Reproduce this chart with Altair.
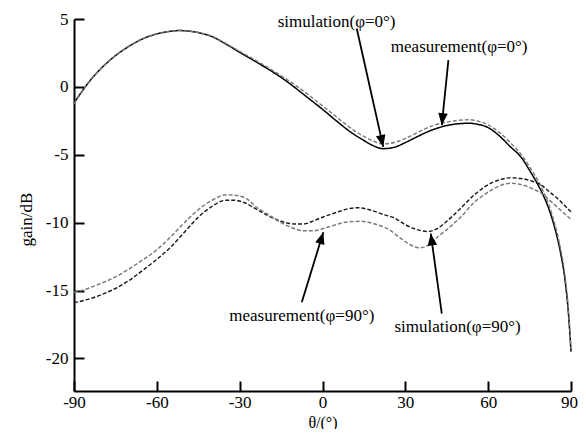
import math
import altair as alt
import pandas as pd

W, H = 497, 372
XMIN, XMAX = -90, 90
YMIN, YMAX = -22.4, 5
FONT = "Liberation Serif"

# simulation phi=0 (solid)
sim0_x = [-90, -85, -80, -75, -70, -65, -60, -55, -52, -48, -45, -40, -35, -30, -25, -20, -15, -10, -5, 0, 5, 10, 15, 18, 22, 26, 30, 35, 40, 45, 50, 53, 56, 60, 64, 68, 72, 75, 78, 80, 82, 84, 86, 88, 89, 90]
sim0_y = [-1.2, 0.25, 1.4, 2.3, 3.0, 3.55, 3.9, 4.1, 4.15, 4.1, 4.0, 3.7, 3.15, 2.55, 1.95, 1.35, 0.7, -0.05, -0.85, -1.65, -2.5, -3.3, -3.95, -4.3, -4.55, -4.45, -4.1, -3.6, -3.15, -2.85, -2.7, -2.68, -2.75, -3.0, -3.6, -4.4, -5.2, -6.15, -7.2, -8.0, -9.0, -10.3, -12.0, -14.5, -16.5, -19.5]
# measurement phi=0 (grey dashed)
mea0_x = sim0_x
mea0_y = [-1.25, 0.25, 1.4, 2.3, 3.0, 3.55, 3.9, 4.1, 4.15, 4.1, 4.0, 3.72, 3.2, 2.62, 2.05, 1.45, 0.82, 0.15, -0.6, -1.4, -2.2, -3.0, -3.65, -3.95, -4.2, -4.1, -3.8, -3.3, -2.85, -2.6, -2.45, -2.42, -2.5, -2.8, -3.35, -4.1, -5.0, -5.9, -6.9, -7.7, -8.7, -10.0, -11.7, -14.2, -16.2, -19.3]
# simulation phi=90 (dark dashed)
sim90_x = [-90, -85, -80, -75, -70, -65, -60, -55, -50, -45, -40, -35, -32, -28, -24, -20, -15, -10, -7, -3, 0, 5, 10, 13, 17, 22, 26, 30, 34, 38, 41, 45, 50, 55, 60, 64, 68, 72, 76, 79, 82, 85, 88, 90]
sim90_y = [-15.9, -15.65, -15.3, -14.85, -14.25, -13.5, -12.7, -11.8, -10.7, -9.6, -8.8, -8.35, -8.35, -8.55, -9.0, -9.45, -9.9, -10.1, -10.1, -9.85, -9.6, -9.25, -8.95, -8.9, -9.05, -9.4, -9.65, -10.15, -10.5, -10.65, -10.5, -9.9, -8.95, -7.95, -7.2, -6.85, -6.7, -6.75, -6.95, -7.2, -7.7, -8.2, -8.8, -9.2]
# measurement phi=90 (grey dashed)
mea90_x = [-90, -85, -80, -75, -70, -67, -60, -55, -50, -45, -40, -35, -31, -27, -24, -20, -15, -10, -7, -3, 0, 4, 9, 14, 19, 24, 28, 32, 35, 38, 42, 46, 50, 55, 60, 64, 68, 72, 76, 79, 82, 85, 88, 90]
mea90_y = [-15.15, -14.85, -14.45, -14.0, -13.4, -13.0, -12.0, -11.05, -10.0, -9.05, -8.35, -7.95, -8.0, -8.3, -8.85, -9.35, -10.0, -10.45, -10.6, -10.6, -10.45, -10.2, -9.95, -9.9, -10.1, -10.5, -11.1, -11.65, -11.85, -11.7, -11.0, -10.35, -9.6, -8.5, -7.75, -7.3, -7.1, -7.2, -7.5, -7.8, -8.3, -8.85, -9.4, -9.75]

series_names = ["measurement(φ=0°)", "simulation(φ=90°)", "measurement(φ=90°)", "simulation(φ=0°)"]
series_colors = ["#7a7a7a", "#1a1a1a", "#7a7a7a", "#000000"]
series_dash = [[4, 2], [4, 2], [4, 2], [1, 0]]
series_width = [1.4, 1.5, 1.4, 1.6]

# annotations
label_text = ["simulation(φ=0°)", "measurement(φ=0°)", "measurement(φ=90°)", "simulation(φ=90°)"]
label_x = [5.1, 49.5, -7.5, 48.9]
label_y = [4.8, 2.96, -16.9, -17.7]
arrow_x1 = [12.4, 45.6, -7.5, 43.2]
arrow_y1 = [4.3, 1.97, -15.86, -16.7]
arrow_x2 = [22.0, 43.2, 0.3, 39.2]
arrow_y2 = [-4.42, -2.82, -10.7, -10.8]

x_ticks = [-90, -60, -30, 0, 30, 60, 90]
y_ticks = [5, 0, -5, -10, -15, -20]

rows = []
for name, xs, ys in [
    ("simulation(φ=0°)", sim0_x, sim0_y),
    ("measurement(φ=0°)", mea0_x, mea0_y),
    ("simulation(φ=90°)", sim90_x, sim90_y),
    ("measurement(φ=90°)", mea90_x, mea90_y),
]:
    for a, b in zip(xs, ys):
        rows.append({"series": name, "x": a, "y": b})
df = pd.DataFrame(rows)

# arrowheads: orientation from pixel direction
kx = W / (XMAX - XMIN)
ky = H / (YMAX - YMIN)
HEAD = 12
heads = []
for x1, y1, x2, y2 in zip(arrow_x1, arrow_y1, arrow_x2, arrow_y2):
    dxp = (x2 - x1) * kx
    dyp = -(y2 - y1) * ky
    L = math.hypot(dxp, dyp)
    ux, uy = dxp / L, dyp / L
    ang = math.degrees(math.atan2(ux, -uy)) % 360
    cx = x2 - (HEAD / 2) * ux / kx
    cy = y2 + (HEAD / 2) * uy / ky
    heads.append({"x": cx, "y": cy, "angle": ang})
heads_df = pd.DataFrame(heads)
arrows_df = pd.DataFrame({"x": arrow_x1, "y": arrow_y1, "x2": arrow_x2, "y2": arrow_y2})
labels_df = pd.DataFrame({"x": label_x, "y": label_y, "text": label_text})

xscale = alt.Scale(domain=[XMIN, XMAX], nice=False, zero=False)
yscale = alt.Scale(domain=[YMIN, YMAX], nice=False, zero=False)

main_x_axis = alt.Axis(values=x_ticks, title="θ/(°)", orient="bottom", grid=False,
                       ticks=False, tickSize=0, labelPadding=3, domainColor="black",
                       domainWidth=2, labelFont=FONT, labelFontSize=17, labelColor="black",
                       labelExpr="toString(datum.value)",
                       labelOffset={"condition": {"test": "datum.value == 90", "value": -2}, "value": 0},
                       titleFont=FONT, titleFontSize=16, titleFontWeight="normal",
                       titleColor="black", titleY=31, titleBaseline="middle",
                       labelFlush=False)
main_y_axis = alt.Axis(values=y_ticks, title="gain/dB", orient="left", grid=False,
                       ticks=False, tickSize=0, labelPadding=6, domainColor="black",
                       domainWidth=2, labelFont=FONT, labelFontSize=17, labelColor="black",
                       labelExpr="toString(datum.value)",
                       titleFont=FONT, titleFontSize=17, titleFontWeight="normal",
                       titleColor="black", titleX=-48, titleY=200, titleBaseline="middle",
                       labelFlush=False)
tick_x_axis = alt.Axis(values=x_ticks, title=None, orient="top", offset=-H, grid=False,
                       labels=False, domain=False, ticks=True, tickSize=10,
                       tickWidth=2, tickColor="black")
tick_y_axis = alt.Axis(values=y_ticks, title=None, orient="right", offset=-W, grid=False,
                       labels=False, domain=False, ticks=True, tickSize=10,
                       tickWidth=2, tickColor="black")

lines = alt.Chart(df).mark_line(interpolate="monotone").encode(
    x=alt.X("x:Q", scale=xscale, axis=main_x_axis),
    y=alt.Y("y:Q", scale=yscale, axis=main_y_axis),
    color=alt.Color("series:N", scale=alt.Scale(domain=series_names, range=series_colors), legend=None),
    strokeDash=alt.StrokeDash("series:N", scale=alt.Scale(domain=series_names, range=series_dash), legend=None),
    strokeWidth=alt.StrokeWidth("series:N", scale=alt.Scale(domain=series_names, range=series_width), legend=None),
    detail="series:N",
)

shafts = alt.Chart(arrows_df).mark_rule(color="black", strokeWidth=1.8).encode(
    x=alt.X("x:Q", scale=xscale, axis=None),
    y=alt.Y("y:Q", scale=yscale, axis=None),
    x2="x2:Q",
    y2="y2:Q",
)

heads_layer = alt.Chart(heads_df).mark_point(
    shape="M0,-1L-0.8,1L0.8,1Z", filled=True, color="black", opacity=1, size=HEAD * HEAD, strokeWidth=0
).encode(
    x=alt.X("x:Q", scale=xscale, axis=tick_x_axis),
    y=alt.Y("y:Q", scale=yscale, axis=tick_y_axis),
    angle=alt.Angle("angle:Q", scale=None),
)

texts = alt.Chart(labels_df).mark_text(font=FONT, fontSize=17, color="black", baseline="middle", align="center").encode(
    x=alt.X("x:Q", scale=xscale, axis=None),
    y=alt.Y("y:Q", scale=yscale, axis=None),
    text="text:N",
)

chart = alt.layer(lines, shafts, heads_layer, texts).resolve_axis(
    x="independent", y="independent"
).properties(
    width=W, height=H,
    autosize=alt.AutoSizeParams(type="none"),
    padding={"left": 66, "top": 11, "right": 7, "bottom": 38},
    background="white",
).configure_view(stroke=None)

chart.save("out.html", embed_options={"renderer": "svg", "actions": False})
